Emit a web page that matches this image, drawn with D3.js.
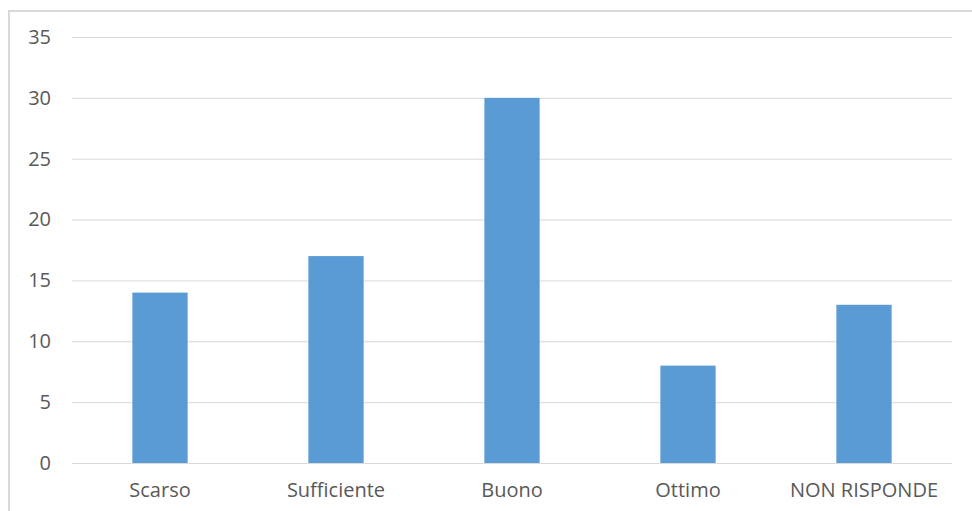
<!DOCTYPE html>
<html><head><meta charset="utf-8">
<script src="https://cdn.jsdelivr.net/npm/d3@7"></script>
<style>body{margin:0;background:#fff;}svg{display:block;}</style>
</head><body>
<script>
const categories = ["Scarso","Sufficiente","Buono","Ottimo","NON RISPONDE"];
const values = [14,17,30,8,13];
const yTicks = [0,5,10,15,20,25,30,35];

const W = 972, H = 511;
const svg = d3.select("body").append("svg").attr("width",W).attr("height",H);
svg.append("rect").attr("x",9).attr("y",11).attr("width",W).attr("height",H)
  .attr("fill","#fff").attr("stroke","#d9d9d9").attr("stroke-width",2);

const x = d3.scaleBand().domain(categories).range([72,952]).paddingInner(0.686).paddingOuter(0.343);
const y = d3.scaleLinear().domain([0,35]).range([463,37]);

const yAxis = svg.append("g").attr("transform","translate(72,0)")
  .call(d3.axisLeft(y).tickValues(yTicks).tickSize(-880).tickPadding(21));
yAxis.select(".domain").remove();
yAxis.selectAll("line").attr("stroke","#d9d9d9").attr("stroke-width",1);
yAxis.selectAll("text").attr("fill","#595959").style("font-family","'Open Sans', sans-serif").style("font-size","20px");

svg.append("g").selectAll("rect").data(values).join("rect")
  .attr("x",(d,i)=>x(categories[i])).attr("width",x.bandwidth())
  .attr("y",d=>y(d)).attr("height",d=>y(0)-y(d)).attr("fill","#5b9bd5");

const xAxis = svg.append("g").attr("transform","translate(0,463)")
  .call(d3.axisBottom(x).tickSize(0).tickPadding(20));
xAxis.select(".domain").attr("stroke","#d9d9d9").attr("d","M72,0.5H952");
xAxis.selectAll("text").attr("fill","#595959").style("font-family","'Open Sans', sans-serif").style("font-size","20px");
</script>
</body></html>
